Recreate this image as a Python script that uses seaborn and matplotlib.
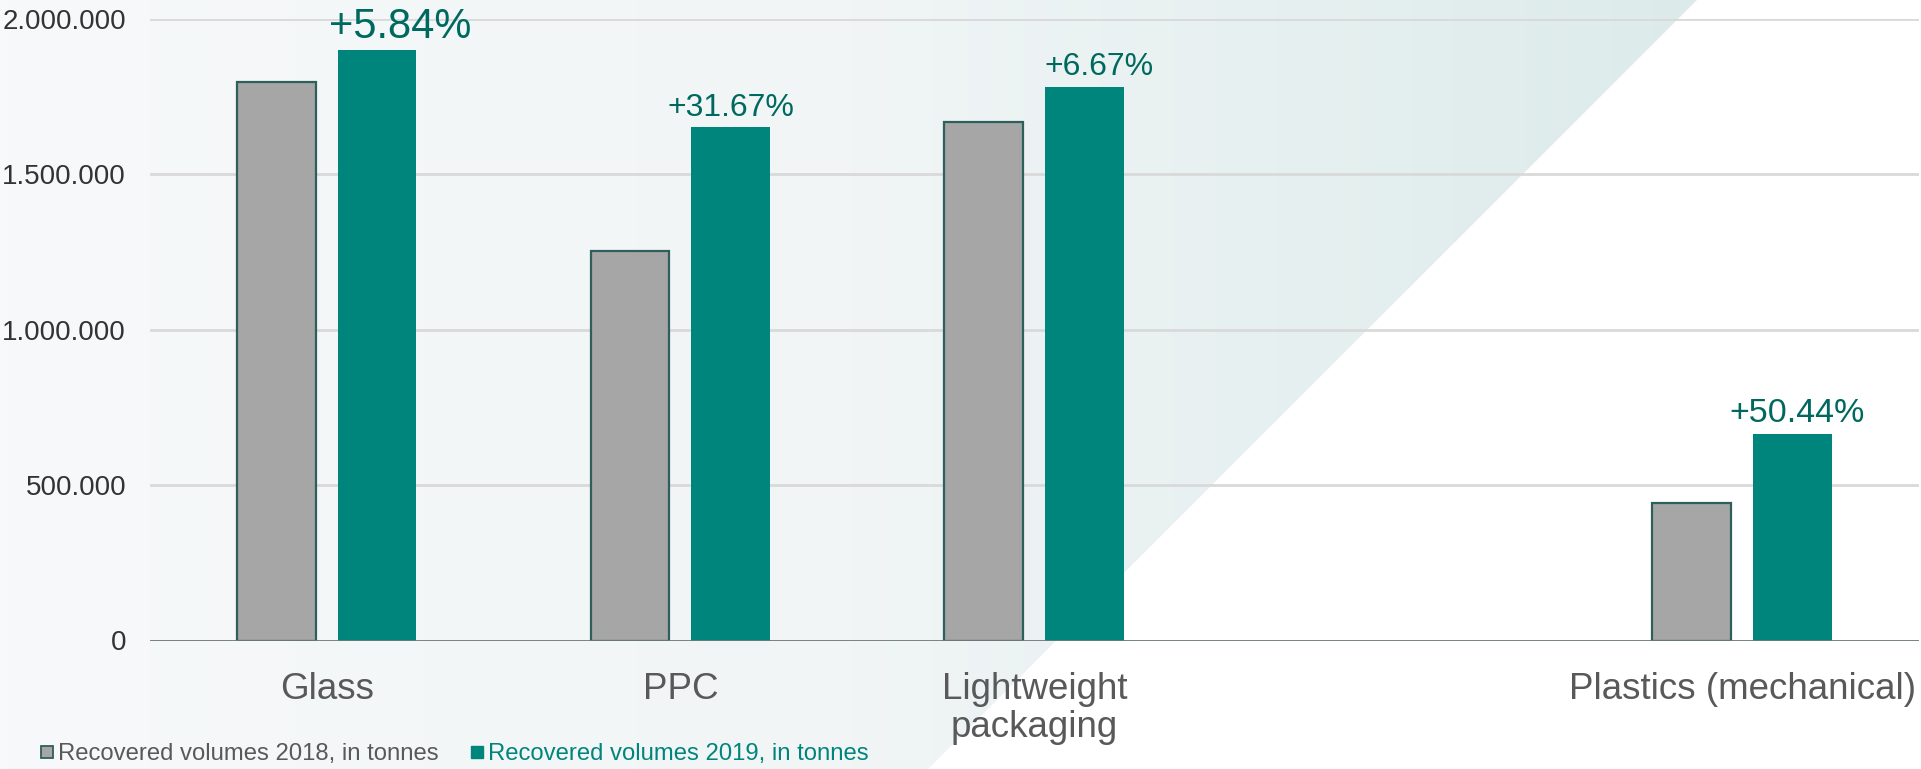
import numpy as np
import pandas as pd
import matplotlib
matplotlib.use("Agg")
import matplotlib.pyplot as plt
import seaborn as sns
from matplotlib.patches import Polygon
from matplotlib.colors import LinearSegmentedColormap
from matplotlib.ticker import FuncFormatter
from matplotlib.lines import Line2D

# ---- data ----
categories = ["Glass", "PPC", "Lightweight\npackaging", "Plastics (mechanical)"]
slots = ["Glass", "PPC", "Lightweight\npackaging", " ", "Plastics (mechanical)"]
vol_2018 = [1795000, 1253000, 1668000, 441000]
vol_2019 = [1900000, 1650000, 1779000, 664000]
pct_labels = ["+5.84%", "+31.67%", "+6.67%", "+50.44%"]
series_names = ["Recovered volumes 2018, in tonnes", "Recovered volumes 2019, in tonnes"]
yticks = [0, 500000, 1000000, 1500000, 2000000]

# style (label nudges in points, label sizes)
pct_dx = [16.5, 0, 10.5, 3]
pct_size = [30, 23, 23, 24.5]
GREY = "#a6a6a6"
TEAL = "#00857d"
EDGE = "#2f5f5c"
LABEL_TEAL = "#00695f"

df = pd.DataFrame({
    "category": categories * 2,
    "value": vol_2018 + vol_2019,
    "series": [series_names[0]] * 4 + [series_names[1]] * 4,
})

sns.set_theme(style="white")
plt.rcParams["font.family"] = ["Liberation Sans", "DejaVu Sans"]

W, H = 1921, 769
fig = plt.figure(figsize=(W / 100, H / 100), dpi=100)
fig.patch.set_facecolor("white")

# background gradient wedge
bg = fig.add_axes([0, 0, 1, 1], zorder=0)
bg.set_xlim(0, W)
bg.set_ylim(H, 0)
bg.axis("off")
cmap = LinearSegmentedColormap.from_list("bg", ["#f7f9fa", "#f1f5f6", "#dcebea"])
grad = np.tile(np.linspace(0, 1, 400), (10, 1))
im = bg.imshow(grad, extent=[0, 1700, H, 0], cmap=cmap, aspect="auto", zorder=0)
poly = Polygon([(0, 0), (1697, 0), (928, H), (0, H)], closed=True,
               transform=bg.transData, facecolor="none", edgecolor="none")
bg.add_patch(poly)
im.set_clip_path(poly)

left = 149.7 / W
right = 1919 / W
bottom = 1 - 640.5 / H
top = 1 - 18.5 / H
ax = fig.add_axes([left, bottom, right - left, top - bottom], zorder=1)
ax.patch.set_alpha(0)

sns.barplot(data=df, x="category", y="value", hue="series", order=slots,
            hue_order=series_names, palette=[GREY, TEAL], width=0.57, gap=0.218,
            ax=ax, legend=False, saturation=1, zorder=3)

for bc, col in zip(ax.containers, [GREY, TEAL]):
    for p in bc.patches:
        if col == GREY:
            p.set_edgecolor(EDGE)
            p.set_linewidth(1.6)
        else:
            p.set_edgecolor(TEAL)
            p.set_linewidth(0)

# percent labels above 2019 bars
for p, lab, dx, fs in zip(ax.containers[1].patches, pct_labels, pct_dx, pct_size):
    h = p.get_height()
    if np.isnan(h):
        continue
    ax.annotate(lab, (p.get_x() + p.get_width() / 2, h), xytext=(dx, 8.5),
                textcoords="offset points", ha="center", va="baseline",
                fontsize=fs, color=LABEL_TEAL, annotation_clip=False)

ax.set_xlim(-0.5, 4.5)
ax.set_ylim(0, 2000000)
ax.set_yticks(yticks)
ax.yaxis.set_major_formatter(FuncFormatter(lambda v, _: f"{int(v):,}".replace(",", ".")))
ax.yaxis.grid(True, color="#d9d9d9", linewidth=2, zorder=0)
ax.set_axisbelow(True)
for s in ax.spines.values():
    s.set_visible(False)
ax.axhline(0, color="#6f7b7a", linewidth=2, zorder=4)
ax.tick_params(axis="y", length=0, pad=17, labelsize=20, labelcolor="#333333")
ax.tick_params(axis="x", length=0, pad=23, labelsize=26.5, labelcolor="#595959")
ax.set_xlabel("")
ax.set_ylabel("")
for t in ax.get_xticklabels():
    t.set_linespacing(1.08)

# legend
handles = [
    Line2D([], [], marker="s", linestyle="none", markersize=9,
           markerfacecolor=GREY, markeredgecolor=EDGE, markeredgewidth=1.3),
    Line2D([], [], marker="s", linestyle="none", markersize=9,
           markerfacecolor=TEAL, markeredgecolor=TEAL),
]
leg = fig.legend(handles, series_names, loc="center left",
                 bbox_to_anchor=(40 / W, 1 - 754 / H), ncol=2, frameon=False,
                 fontsize=17.2, handlelength=0.6, handletextpad=0.15,
                 columnspacing=1.3, borderaxespad=0, borderpad=0)
leg.get_texts()[0].set_color("#595959")
leg.get_texts()[1].set_color(TEAL)

fig.savefig("out.png", dpi=100)
